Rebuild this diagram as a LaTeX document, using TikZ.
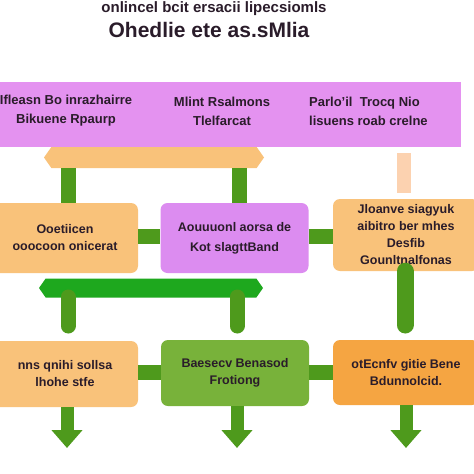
\documentclass[tikz,border=0pt]{standalone}
\usepackage{fontspec}
\setmainfont{Liberation Sans}
\usetikzlibrary{arrows.meta,shapes.symbols}
\definecolor{bandpurple}{RGB}{228,146,240}
\definecolor{boxpurple}{RGB}{220,140,240}
\definecolor{boxorange}{RGB}{249,194,122}
\definecolor{darkorange}{RGB}{245,165,66}
\definecolor{boxgreen}{RGB}{120,178,58}
\definecolor{linkgreen}{RGB}{78,154,28}
\definecolor{bargreen}{RGB}{30,168,30}
\definecolor{peach}{RGB}{252,210,176}
\definecolor{inkdark}{RGB}{42,28,42}
\tikzset{
  txt/.style={text=inkdark,font=\bfseries\fontsize{12.5}{17}\selectfont,align=center,inner sep=0pt},
  box/.style={txt,rounded corners=7pt,inner sep=0pt},
  link/.style={draw=linkgreen,line width=15pt},
  stem/.style={draw=linkgreen,line width=15pt,line cap=round},
  downarrow/.style={draw=linkgreen,line width=13pt,-{Triangle[width=30pt,length=18pt]}},
  hexbar/.style={signal,signal to=west and east,signal pointer angle=110,inner sep=0pt,minimum width=220pt,minimum height=21pt,draw=none}
}
\begin{document}
\begin{tikzpicture}[x=1pt,y=-1pt]
\useasboundingbox (0,0) rectangle (474,474);
\fill[white] (0,0) rectangle (474,474);
% title
\node[txt,font=\bfseries\fontsize{15}{17}\selectfont] (t1) at (214,9) {onlincel bcit ersacii lipecsiomls};
\node[txt,font=\bfseries\fontsize{21}{23}\selectfont] (t2) at (209,30) {Ohedlie ete as.sMlia};
% top band
\node[fill=bandpurple,minimum width=461pt,minimum height=65pt,inner sep=0pt,anchor=north west] (band) at (0,82) {};
\node[txt,font=\bfseries\fontsize{13}{19}\selectfont] (bl) at (66,111) {Ifleasn Bo inrazhairre\\Bikuene Rpaurp};
\node[txt,font=\bfseries\fontsize{13}{19}\selectfont] (bm) at (222,111) {Mlint Rsalmons\\Tlelfarcat};
\node[txt,font=\bfseries\fontsize{13}{19}\selectfont,align=left,anchor=west] (br) at (309,111) {Parlo'il\ \ Trocq Nio\\lisuens roab crelne};
% orange bar
\node[hexbar,fill=boxorange] (obar) at (154,157.5) {};
% row 1 boxes
\node[box,fill=boxorange,minimum width=146pt,minimum height=70pt] (b1l) at (65,238) {Ooetiicen\\ooocoon onicerat};
\node[box,fill=boxpurple,minimum width=148pt,minimum height=70pt] (b1m) at (234.5,238) {Aouuuonl aorsa de\\[3pt]Kot slagttBand};
\node[box,fill=boxorange,minimum width=146pt,minimum height=72pt] (b1r) at (406,235) {\fontsize{12.5}{16}\selectfont Jloanve siagyuk\\aibitro ber mhes\\Desfib\\Gounltnalfonas};
% stems from orange bar
\coordinate (os1) at (68,168);
\coordinate (os2) at (239,168);
\draw[link] (os1) -- (os1 |- b1l.north);
\draw[link] (os2) -- (os2 |- b1m.north);
% peach arrow
\coordinate (pk) at (404,153);
\draw[draw=peach,line width=14pt] (pk) -- (404,193);
% row1 links
\draw[link] (b1l.east |- 0,236) -- (b1m.west |- 0,236);
\draw[link] (b1m.east |- 0,236) -- (b1r.west |- 0,236);
% green bar
\node[hexbar,fill=bargreen,minimum width=224pt,minimum height=19pt] (gbar) at (151,288) {};
% row 2 boxes
\node[box,fill=boxorange,minimum width=146pt,minimum height=66pt] (b2l) at (65,374) {nns qnihi sollsa\\lhohe stfe};
\node[box,fill=boxgreen,minimum width=148pt,minimum height=66pt] (b2m) at (235,373) {Baesecv Benasod\\Frotiong};
\node[box,fill=darkorange,minimum width=146pt,minimum height=65pt] (b2r) at (406,372.5) {otEcnfv gitie Bene\\Bdunnolcid.};
% stems from green bar
\coordinate (gs1) at (68,297);
\coordinate (gs2) at (237,297);
\draw[stem] (gs1) -- (68,326);
\draw[stem] (gs2) -- (237,326);
\coordinate (rs) at (405,325);
\draw[stem,line width=17pt] (b1r.south -| rs) -- (rs);
% row2 links
\draw[link] (b2l.east |- 0,372) -- (b2m.west |- 0,372);
\draw[link] (b2m.east |- 0,372) -- (b2r.west |- 0,372);
% bottom arrows
\coordinate (e1) at (67,448);
\coordinate (e2) at (237,448);
\coordinate (e3) at (406,448);
\draw[downarrow] (b2l.south -| e1) -- (e1);
\draw[downarrow] (b2m.south -| e2) -- (e2);
\draw[downarrow] (b2r.south -| e3) -- (e3);
\end{tikzpicture}
\end{document}
